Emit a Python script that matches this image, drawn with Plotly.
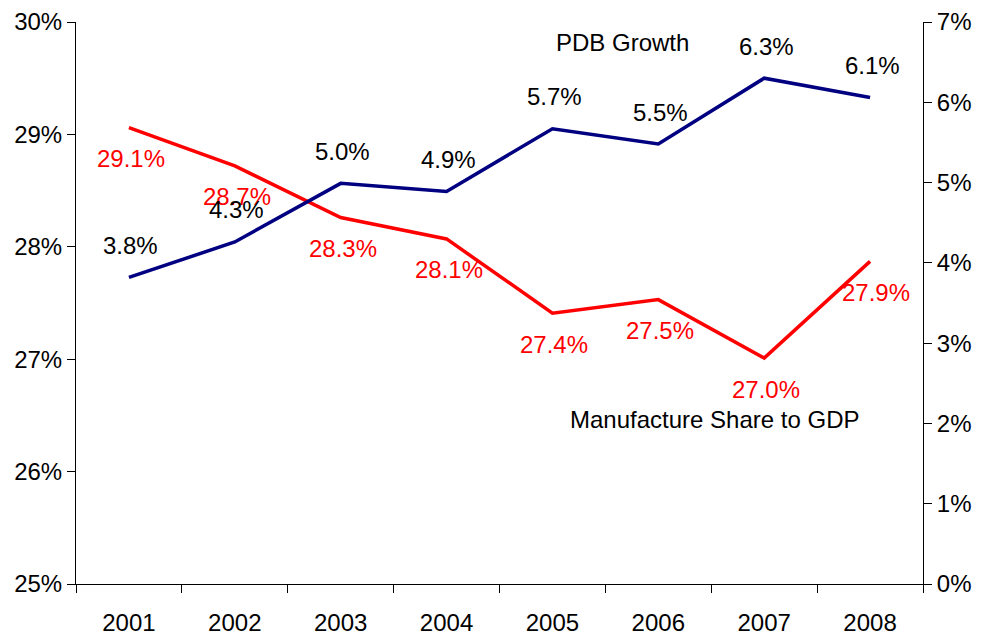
import plotly.graph_objects as go

years = ["2001", "2002", "2003", "2004", "2005", "2006", "2007", "2008"]
manufacture_share = [29.06, 28.72, 28.26, 28.07, 27.41, 27.53, 27.01, 27.87]
pdb_growth = [3.82, 4.26, 4.99, 4.89, 5.67, 5.48, 6.30, 6.06]
left_ticks = [25, 26, 27, 28, 29, 30]
right_ticks = [0, 1, 2, 3, 4, 5, 6, 7]

RED = "#FF0000"
NAVY = "#000080"
FONT = "Liberation Sans, Arial, sans-serif"
FS = 24

fig = go.Figure()

fig.add_trace(
    go.Scatter(
        x=years, y=manufacture_share, mode="lines", name="Manufacture Share to GDP",
        line=dict(color=RED, width=3.5), yaxis="y", hoverinfo="skip",
    )
)
fig.add_trace(
    go.Scatter(
        x=years, y=pdb_growth, mode="lines", name="PDB Growth",
        line=dict(color=NAVY, width=3.5), yaxis="y2", hoverinfo="skip",
    )
)

# value labels (x given as category index, since the years look numeric)
annotations = []
for i, yr in enumerate(years):
    dx = 6 if i == 7 else 2
    annotations.append(dict(
        x=i, y=manufacture_share[i], xref="x", yref="y", text=f"{manufacture_share[i]:.1f}%",
        showarrow=False, yshift=-31, xshift=dx, font=dict(color=RED, size=FS, family=FONT),
    ))
    annotations.append(dict(
        x=i, y=pdb_growth[i], xref="x", yref="y2", text=f"{pdb_growth[i]:.1f}%",
        showarrow=False, yshift=32, xshift=2, font=dict(color="black", size=FS, family=FONT),
    ))

annotations.append(dict(
    x=0.645, y=0.963, xref="paper", yref="paper", text="PDB Growth", showarrow=False,
    xanchor="center", yanchor="middle", font=dict(color="black", size=FS, family=FONT),
))
annotations.append(dict(
    x=0.754, y=0.292, xref="paper", yref="paper", text="Manufacture Share to GDP", showarrow=False,
    xanchor="center", yanchor="middle", font=dict(color="black", size=FS, family=FONT),
))

axis_common = dict(showgrid=False, zeroline=False, linecolor="black", linewidth=1,
                   tickcolor="black", ticklen=8, tickwidth=1, automargin=False,
                   tickfont=dict(size=FS, family=FONT, color="black"))

# page body has an 8px margin, so the figure is made 8px smaller each way
fig.update_layout(
    width=977,
    height=629,
    margin=dict(l=68, r=62, t=14, b=53),
    paper_bgcolor="white",
    plot_bgcolor="white",
    showlegend=False,
    font=dict(family=FONT, size=FS, color="black"),
    annotations=annotations,
    xaxis=dict(
        type="category", categoryarray=years, range=[-0.5, 7.5], showline=True,
        ticks="outside", tickson="boundaries", ticklabelstandoff=17, **axis_common,
    ),
    xaxis2=dict(
        overlaying="x", anchor="y", side="bottom", range=[-0.5, 7.5], tick0=-0.5, dtick=1,
        ticks="inside", showticklabels=False, showline=False, **axis_common,
    ),
    yaxis=dict(
        range=[25, 30], tickvals=left_ticks, ticktext=[f"{v}%" for v in left_ticks],
        ticks="outside", showline=True, **axis_common,
    ),
    yaxis2=dict(
        range=[0, 7], tickvals=right_ticks, ticktext=[f"{v}%" for v in right_ticks],
        overlaying="y", side="right", anchor="x", ticks="outside", showline=True, **axis_common,
    ),
    yaxis3=dict(
        range=[25, 30], tickvals=left_ticks, overlaying="y", side="left", anchor="x",
        ticks="inside", showticklabels=False, showline=False, **axis_common,
    ),
    yaxis4=dict(
        range=[0, 7], tickvals=right_ticks, overlaying="y", side="right", anchor="x",
        ticks="inside", showticklabels=False, showline=False, **axis_common,
    ),
)

fig.write_html("out.html")
